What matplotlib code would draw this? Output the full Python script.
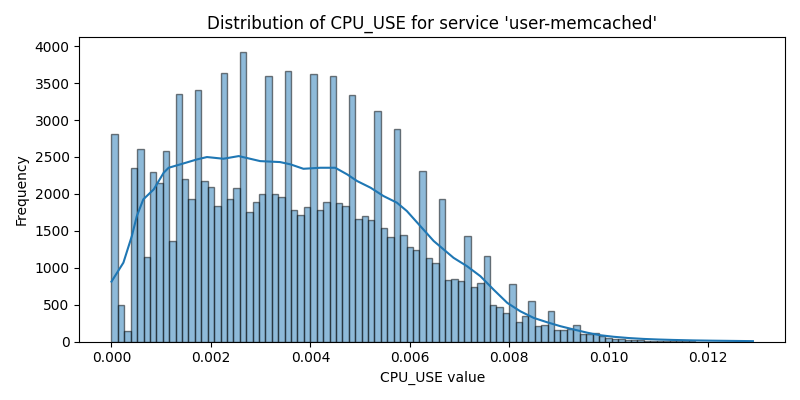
import numpy as np
import matplotlib
matplotlib.use("Agg")
import matplotlib.pyplot as plt

# histogram counts (100 bins from 0 to max)
x_min = 0.0
x_max = 0.0129
counts = [2814, 492, 149, 2354, 2611, 1150, 2300, 2151, 2584, 1366,
          3355, 2205, 1935, 3410, 2178, 2097, 1840, 3640, 1935, 2084,
          3924, 1759, 1894, 2002, 3599, 2002, 1962, 3662, 1786, 1718,
          1827, 3626, 1786, 1894, 3599, 1881, 1840, 3342, 1664, 1705,
          1651, 3125, 1542, 1421, 2882, 1448, 1285, 1245, 2314, 1137,
          1069, 1935, 836, 849, 822, 1432, 741, 795, 1161, 497,
          470, 388, 781, 266, 348, 551, 212, 226, 416, 158,
          158, 172, 226, 104, 104, 110, 77, 45, 38, 30,
          25, 20, 15, 12, 9, 7, 5, 4, 3, 2,
          2, 1, 1, 1, 1, 0, 1, 0, 0, 1]

# kde curve (scaled to counts)
kde_x = [0.0, 0.00024, 0.00041, 0.00051, 0.00064, 0.00085, 0.00105, 0.00115,
         0.00138, 0.00172, 0.00192, 0.00225, 0.00256, 0.00299, 0.00339, 0.00360,
         0.00386, 0.00420, 0.00450, 0.00474, 0.00494, 0.00521, 0.00547, 0.00574,
         0.00594, 0.00621, 0.00648, 0.00688, 0.00715, 0.00742, 0.00769, 0.00796,
         0.00822, 0.00849, 0.00876, 0.00903, 0.00930, 0.00957, 0.00983, 0.01010,
         0.01040, 0.01070, 0.01100, 0.01130, 0.01170, 0.01210, 0.01250, 0.01290]
kde_y = [812, 1069, 1430, 1700, 1926, 2061, 2287, 2354,
         2399, 2467, 2499, 2476, 2512, 2444, 2431, 2400,
         2340, 2354, 2354, 2264, 2174, 2084, 1971, 1881,
         1768, 1565, 1362, 1134, 1021, 885, 700, 524,
         411, 321, 262, 208, 163, 120, 86, 65,
         48, 36, 28, 22, 16, 12, 9, 6]

edges = np.linspace(x_min, x_max, len(counts) + 1)
width = edges[1] - edges[0]

fig, ax = plt.subplots(figsize=(8, 4), dpi=100)
ax.bar(edges[:-1], counts, width=width, align="edge",
       color="#1f77b4", edgecolor="black", alpha=0.5, linewidth=1)
ax.plot(kde_x, kde_y, color="#1f77b4", linewidth=1.5)

ax.set_title("Distribution of CPU_USE for service 'user-memcached'")
ax.set_xlabel("CPU_USE value")
ax.set_ylabel("Frequency")
ax.set_xticks([0.0, 0.002, 0.004, 0.006, 0.008, 0.010, 0.012])

plt.tight_layout()
plt.savefig("out.png")
